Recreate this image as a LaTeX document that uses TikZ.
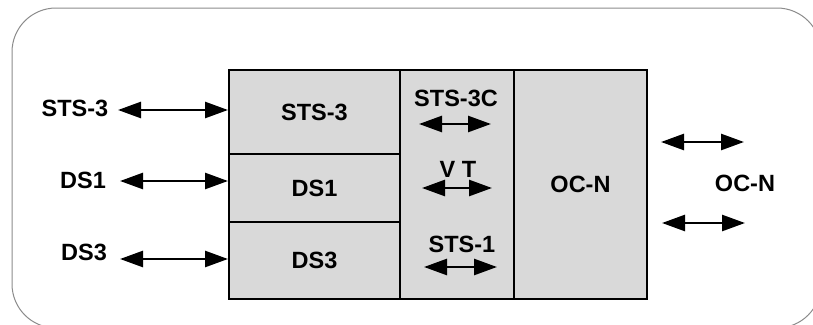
\documentclass[tikz,border=0pt]{standalone}
\usepackage{fontspec}
\setmainfont{Liberation Sans}
\usetikzlibrary{arrows.meta,positioning}
\tikzset{pixel/.style={
  x=1pt,y=-1pt,
  line join=miter
},
cell/.style={draw,fill=black!15,line width=2pt,inner sep=0pt,anchor=north west,
  font=\fontsize{23.5}{27}\selectfont\bfseries},
lbl/.style={font=\fontsize{23.5}{27}\selectfont\bfseries,inner sep=0pt},
biarrow/.style={line width=2.6pt,
  {Triangle[length=23pt,width=16pt]}-{Triangle[length=23pt,width=16pt]}}
}

\begin{document}
\begin{tikzpicture}[pixel]
  \useasboundingbox (0,0) rectangle (813,324);
  \clip (0,0) rectangle (813,324);
  \fill[white] (0,0) rectangle (813,324);
  \draw[black!45,line width=1pt,rounded corners=44pt] (12,8) rectangle (821,328);

  \node[cell,minimum width=171pt,minimum height=84pt] (csts3) at (228,69) {STS-3};
  \node[cell,minimum width=171pt,minimum height=68pt] (cds1) at (228,153) {DS1};
  \node[cell,minimum width=171pt,minimum height=77pt] (cds3) at (228,221) {DS3};
  \node[cell,minimum width=114pt,minimum height=229pt] (cmid) at (399,69) {};
  \node[cell,minimum width=133pt,minimum height=229pt] (cocn) at (513,69) {OC-N};

  \node[lbl] (lsts3) at (75,108) {STS-3};
  \node[lbl] (lds1) at (83,180) {DS1};
  \node[lbl] (lds3) at (84,252) {DS3};
  \coordinate (a1) at (118,110);
  \coordinate (a2) at (120,181);
  \coordinate (a3) at (120,259);
  \draw[biarrow] (a1) -- (a1 -| csts3.west);
  \draw[biarrow] (a2) -- (a2 -| cds1.west);
  \draw[biarrow] (a3) -- (a3 -| cds3.west);

  \node[lbl] (msts3c) at (456,98.5) {STS-3C};
  \node[lbl] (mvt) at (458,169) {V T};
  \node[lbl] (msts1) at (462,244) {STS-1};
  \coordinate (m1l) at (419,124);
  \coordinate (m1r) at (491,124);
  \coordinate (m2l) at (422,188);
  \coordinate (m2r) at (492,188);
  \coordinate (m3l) at (424,267);
  \coordinate (m3r) at (497,267);
  \draw[biarrow] (m1l) -- (m1r);
  \draw[biarrow] (m2l) -- (m2r);
  \draw[biarrow] (m3l) -- (m3r);

  \node[lbl] (rocn) at (745,183) {OC-N};
  \coordinate (r1l) at (661,142);
  \coordinate (r1r) at (744,142);
  \coordinate (r2l) at (662,223);
  \coordinate (r2r) at (745,223);
  \draw[biarrow] (r1l) -- (r1r);
  \draw[biarrow] (r2l) -- (r2r);
\end{tikzpicture}
\end{document}
